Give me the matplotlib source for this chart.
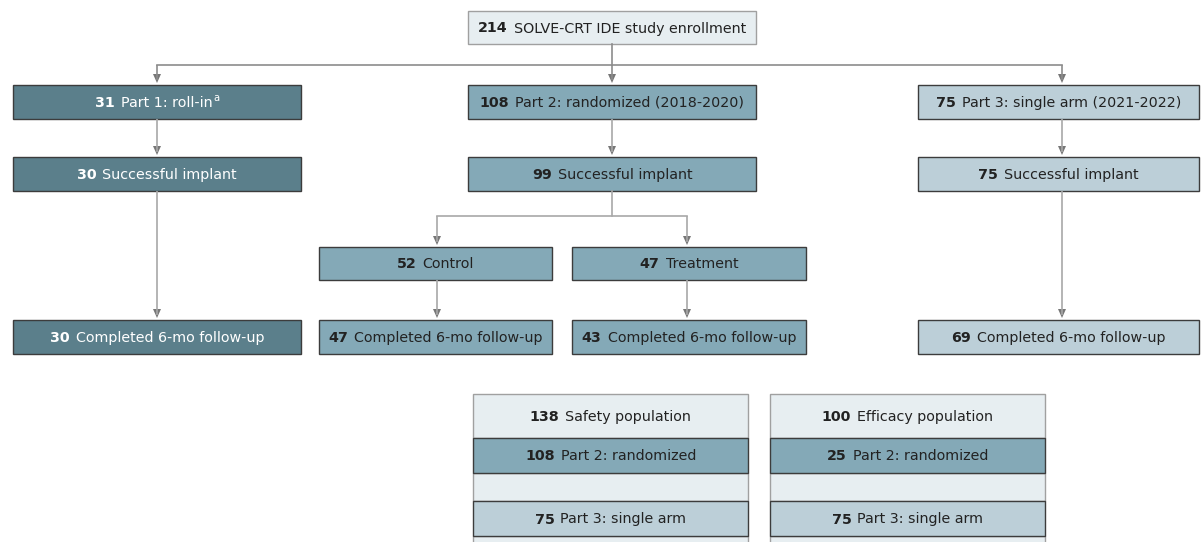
import matplotlib
matplotlib.use("Agg")
import matplotlib.pyplot as plt
from matplotlib.patches import Rectangle, Polygon

plt.rcParams['font.family'] = ['DejaVu Sans']

# flowchart content
enroll_n, enroll_label = "214", "SOLVE-CRT IDE study enrollment"

part_counts = ["31", "108", "75"]
part_labels = ["Part 1: roll-in", "Part 2: randomized (2018-2020)", "Part 3: single arm (2021-2022)"]
implant_counts = ["30", "99", "75"]
implant_label = "Successful implant"
arm_counts = ["52", "47"]
arm_labels = ["Control", "Treatment"]
followup_counts = ["30", "47", "43", "69"]
followup_label = "Completed 6-mo follow-up"

pop_counts = ["138", "100"]
pop_labels = ["Safety population", "Efficacy population"]
pop_part2 = ["108", "25"]
pop_part3 = ["75", "75"]

# colours
c_light = "#e7eef1"
c_p1 = "#5b7f8b"
c_p2 = "#84a9b7"
c_p3 = "#bccfd8"
c_edge_dark = "#3c3c3c"
c_edge_light = "#a0a0a0"
c_line = "#8c8c8c"
c_line2 = "#a8a8a8"
FS = 10.3

fig = plt.figure(figsize=(12.01, 5.42), dpi=100)
ax = fig.add_axes([0, 0, 1, 1])
ax.set_xlim(0, 1201)
ax.set_ylim(542, 0)
ax.axis('off')
renderer = fig.canvas.get_renderer()


def label(cx, cy, num, txt, color="#222222", sup=None):
    t1 = ax.text(0, cy + 5, num, fontsize=FS, fontweight='bold', color=color, va='baseline', ha='left')
    t2 = ax.text(0, cy + 5, txt, fontsize=FS, color=color, va='baseline', ha='left')
    w1 = t1.get_window_extent(renderer).width
    w2 = t2.get_window_extent(renderer).width
    ws = 0
    t3 = None
    if sup:
        t3 = ax.text(0, cy - 1, sup, fontsize=FS * 0.7, color=color, va='baseline', ha='left')
        ws = t3.get_window_extent(renderer).width
    gap = 6
    x0 = cx - (w1 + gap + w2 + ws) / 2
    t1.set_x(x0)
    t2.set_x(x0 + w1 + gap)
    if t3:
        t3.set_x(x0 + w1 + gap + w2 + 0.5)


def box(x0, x1, y0, y1, fc, ec, num, txt, color="#222222", sup=None):
    ax.add_patch(Rectangle((x0, y0), x1 - x0, y1 - y0, facecolor=fc, edgecolor=ec, lw=1.0))
    if num is not None:
        label((x0 + x1) / 2, (y0 + y1) / 2, num, txt, color, sup)


def arrow(x, y0, y1, col=c_line):
    ax.plot([x, x], [y0, y1 - 5], color=col, lw=1.2, solid_capstyle='butt')
    ax.add_patch(Polygon([[x - 4, y1 - 11], [x + 4, y1 - 11], [x, y1 - 2]],
                         closed=True, facecolor="#777777", edgecolor='none'))


def hline(x0, x1, y, col=c_line):
    ax.plot([x0, x1], [y, y], color=col, lw=1.2)


def vline(x, y0, y1, col=c_line):
    ax.plot([x, x], [y0, y1], color=col, lw=1.2)


# columns
col_x = [(13, 301), (468, 756), (918, 1199)]
col_cx = [157, 612, 1062]
col_fc = [c_p1, c_p2, c_p3]
col_tc = ["white", "#222222", "#222222"]

# top box
box(468, 756, 11, 44, c_light, c_edge_light, enroll_n, enroll_label)
vline(612, 44, 65)
hline(157, 1062, 65)
for cx in col_cx:
    arrow(cx, 65, 85)

# parts and implants
for i in range(3):
    x0, x1 = col_x[i]
    box(x0, x1, 85, 119, col_fc[i], c_edge_dark, part_counts[i], part_labels[i], col_tc[i],
        sup="a" if i == 0 else None)
    arrow(col_cx[i], 119, 157, c_line2)
    box(x0, x1, 157, 191, col_fc[i], c_edge_dark, implant_counts[i], implant_label, col_tc[i])

# part 1 and part 3 straight to follow-up
arrow(157, 191, 320, c_line2)
arrow(1062, 191, 320, c_line2)
box(13, 301, 320, 354, c_p1, c_edge_dark, followup_counts[0], followup_label, "white")
box(918, 1199, 320, 354, c_p3, c_edge_dark, followup_counts[3], followup_label)

# part 2 branch
vline(612, 191, 216, c_line2)
hline(437, 687, 216, c_line2)
arm_x = [(319, 552), (572, 806)]
arm_cx = [437, 687]
for j in range(2):
    arrow(arm_cx[j], 216, 247, c_line2)
    box(arm_x[j][0], arm_x[j][1], 247, 280, c_p2, c_edge_dark, arm_counts[j], arm_labels[j])
    arrow(arm_cx[j], 280, 320, c_line2)
    box(arm_x[j][0], arm_x[j][1], 320, 354, c_p2, c_edge_dark, followup_counts[j + 1], followup_label)

# population tables
tab_x = [(473, 748), (770, 1045)]
for k in range(2):
    x0, x1 = tab_x[k]
    box(x0, x1, 394, 438, c_light, c_edge_light, pop_counts[k], pop_labels[k])
    box(x0, x1, 473, 501, c_light, c_edge_light, None, None)
    box(x0, x1, 536, 560, c_light, c_edge_light, None, None)
    box(x0, x1, 438, 473, c_p2, c_edge_dark, pop_part2[k], "Part 2: randomized")
    box(x0, x1, 501, 536, c_p3, c_edge_dark, pop_part3[k], "Part 3: single arm")

fig.savefig("out.png", dpi=100)
